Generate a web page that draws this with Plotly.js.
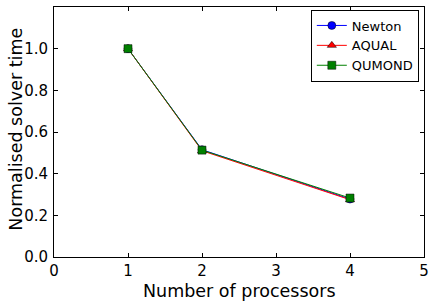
<!DOCTYPE html>
<html>
<head>
<meta charset="utf-8">
<script src="https://cdn.plot.ly/plotly-3.0.1.min.js"></script>
<style>html,body{margin:0;padding:0;background:#fff;}#chart{width:436px;height:301px;}</style>
</head>
<body>
<div id="chart"></div>
<script>
const processors = [1, 2, 4];
const newton = [1.0, 0.515, 0.278];
const aqual = [1.0, 0.510, 0.275];
const qumond = [1.0, 0.513, 0.283];
const xTicks = [0, 1, 2, 3, 4, 5];
const yTicks = [0.0, 0.2, 0.4, 0.6, 0.8, 1.0];
const xTitle = 'Number of processors';
const yTitle = 'Normalised solver time';

function tr(name, y, color, symbol) {
  return {
    x: processors, y: y, name: name, type: 'scatter', mode: 'lines+markers',
    line: {color: color, width: 1},
    marker: {color: color, symbol: symbol, size: 8, line: {color: '#000', width: 0.5}}
  };
}
const data = [
  tr('Newton', newton, '#0000ff', 'circle'),
  tr('AQUAL', aqual, '#ff0000', 'triangle-up'),
  tr('QUMOND', qumond, '#008000', 'square')
];
const axisCommon = {
  showgrid: false, zeroline: false, showline: true, linecolor: '#000', linewidth: 1,
  mirror: 'ticks', ticks: 'inside', ticklen: 4, tickcolor: '#000',
  tickfont: {family: 'DejaVu Sans', size: 15, color: '#000'}, automargin: false
};
const titleFont = {family: 'DejaVu Sans', size: 17.5, color: '#000'};
const layout = {
  width: 436, height: 301,
  margin: {l: 54, r: 12, t: 7, b: 44},
  paper_bgcolor: '#fff', plot_bgcolor: '#fff',
  font: {family: 'DejaVu Sans', color: '#000'},
  xaxis: Object.assign({}, axisCommon, {
    range: [0, 5], tickvals: xTicks, ticktext: xTicks.map(String), ticklabelstandoff: 0
  }),
  yaxis: Object.assign({}, axisCommon, {
    range: [0, 1.2], tickvals: yTicks, ticktext: yTicks.map(v => v.toFixed(1)), ticklabelstandoff: 2
  }),
  annotations: [
    {text: xTitle, xref: 'paper', yref: 'paper', x: 0.5, y: -0.134, xanchor: 'center', yanchor: 'middle',
     showarrow: false, font: titleFont, borderpad: 0},
    {text: yTitle, xref: 'paper', yref: 'paper', x: -0.105, y: 0.51, xanchor: 'center', yanchor: 'middle',
     textangle: -90, showarrow: false, font: titleFont, borderpad: 0}
  ],
  showlegend: true,
  legend: {
    x: 0.986, y: 0.99, xanchor: 'right', yanchor: 'top',
    bordercolor: '#000', borderwidth: 1, bgcolor: '#fff',
    font: {family: 'DejaVu Sans', size: 13, color: '#000'},
    tracegroupgap: 0, itemwidth: 30
  }
};
Plotly.newPlot('chart', data, layout, {staticPlot: true, displayModeBar: false});
</script>
</body>
</html>
